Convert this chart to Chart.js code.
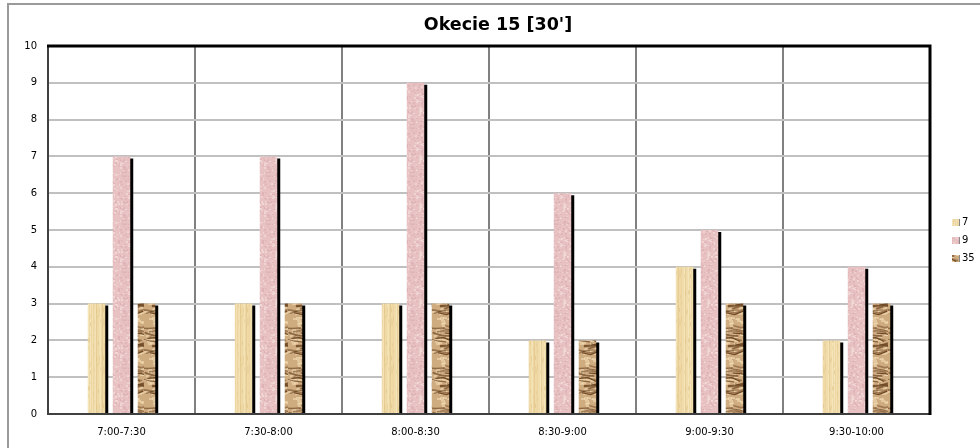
<!DOCTYPE html>
<html>
<head>
<meta charset="utf-8">
<script src="https://cdn.jsdelivr.net/npm/chart.js@4"></script>
<style>
  html, body { margin: 0; padding: 0; background: #fff; }
  #wrap { width: 980px; height: 448px; position: relative; }
</style>
</head>
<body>
<div id="wrap"><canvas id="chart" width="980" height="448"></canvas></div>
<script>
// data
const categories = ['7:00-7:30', '7:30-8:00', '8:00-8:30', '8:30-9:00', '9:00-9:30', '9:30-10:00'];
const seriesNames = ['7', '9', '35'];
const values7 = [3, 3, 3, 2, 4, 2];
const values9 = [7, 7, 9, 6, 5, 4];
const values35 = [3, 3, 3, 2, 3, 3];
const yMin = 0, yMax = 10, yStep = 1;

// small fixed noise source for the textures only
let seed = 12345;
function noise() {
    seed = (seed * 16807) % 2147483647;
    return seed / 2147483647;
}

function texture(w, h, base, paint) {
    let c = document.createElement('canvas');
    c.width = w; c.height = h;
    let g = c.getContext('2d');
    g.fillStyle = base;
    g.fillRect(0, 0, w, h);
    paint(g, w, h);
    return g.createPattern(c, 'repeat');
}

// papyrus-like tan
let tanFill = texture(24, 48, '#efd9a5', function(g, w, h) {
    for (let x = 0; x < w; x++) {
        g.fillStyle = noise() < 0.5 ? 'rgba(214,184,120,' + (noise() * 0.4) + ')' : 'rgba(250,238,205,' + (noise() * 0.6) + ')';
        g.fillRect(x, 0, 1, h);
    }
    for (let i = 0; i < 40; i++) {
        g.fillStyle = 'rgba(222,192,130,0.3)';
        g.fillRect(Math.floor(noise() * w), Math.floor(noise() * h), 1, 4);
    }
});

// rose marble pink
let pinkFill = texture(24, 48, '#e8c1c2', function(g, w, h) {
    for (let i = 0; i < 160; i++) {
        g.fillStyle = noise() < 0.5 ? 'rgba(244,218,218,0.7)' : 'rgba(215,166,170,0.45)';
        g.fillRect(Math.floor(noise() * w), Math.floor(noise() * h), 2, 1 + Math.floor(noise() * 2));
    }
});

// crumpled brown paper
let brownFill = texture(24, 40, '#cfab80', function(g, w, h) {
    for (let i = 0; i < 50; i++) {
        g.fillStyle = 'rgba(240,218,178,0.6)';
        g.fillRect(Math.floor(noise() * w), Math.floor(noise() * h), 4, 2);
    }
    g.lineCap = 'round';
    for (let i = 0; i < 16; i++) {
        let x = noise() * w, y = noise() * h;
        g.lineWidth = 1 + noise() * 1.5;
        g.strokeStyle = 'rgba(100,62,28,' + (0.45 + noise() * 0.45) + ')';
        g.beginPath();
        g.moveTo(x - 8, y + (noise() - 0.5) * 8);
        g.lineTo(x, y);
        g.lineTo(x + 8, y + (noise() - 0.5) * 8);
        g.stroke();
    }
});

const fills = [tanFill, pinkFill, brownFill];

// black drop shadow on the right of each bar
const barShadow = {
    id: 'barShadow',
    beforeDatasetsDraw(chart) {
        let ctx = chart.ctx;
        ctx.save();
        ctx.shadowColor = '#000';
        ctx.shadowBlur = 0;
        ctx.shadowOffsetX = 3;
        ctx.shadowOffsetY = 2;
    },
    afterDatasetsDraw(chart) {
        chart.ctx.restore();
    }
};

// plot frame, outer border and legend
const frame = {
    id: 'frame',
    beforeDraw(chart) {
        let ctx = chart.ctx;
        ctx.save();
        ctx.fillStyle = '#fff';
        ctx.fillRect(0, 0, chart.width, chart.height);
        ctx.strokeStyle = '#9a9a9a';
        ctx.lineWidth = 2;
        ctx.beginPath();
        ctx.moveTo(8, chart.height);
        ctx.lineTo(8, 4);
        ctx.lineTo(chart.width, 4);
        ctx.stroke();
        ctx.restore();
    },
    afterDraw(chart) {
        let ctx = chart.ctx;
        let a = chart.chartArea;
        ctx.save();
        ctx.lineWidth = 2;
        ctx.strokeStyle = '#404040';
        ctx.beginPath();
        ctx.moveTo(a.left, a.top);
        ctx.lineTo(a.left, a.bottom);
        ctx.lineTo(a.right, a.bottom);
        ctx.stroke();
        ctx.lineWidth = 3;
        ctx.strokeStyle = '#000';
        ctx.beginPath();
        ctx.moveTo(a.left - 1, a.top);
        ctx.lineTo(a.right, a.top);
        ctx.lineTo(a.right, a.bottom + 1);
        ctx.stroke();

        // legend
        ctx.font = '10px "DejaVu Sans"';
        ctx.textBaseline = 'middle';
        let ly = (a.top + a.bottom) / 2 - 8;
        for (let i = 0; i < seriesNames.length; i++) {
            let y = ly + i * 18;
            ctx.fillStyle = fills[i];
            ctx.fillRect(952, y - 3, 7, 7);
            ctx.fillStyle = '#888';
            ctx.fillRect(959, y - 3, 1, 7);
            ctx.fillStyle = '#000';
            ctx.fillText(seriesNames[i], 962, y);
        }
        ctx.restore();
    }
};

const allValues = [values7, values9, values35];
let datasets = seriesNames.map((name, i) => ({
    label: name,
    data: allValues[i],
    backgroundColor: fills[i],
    borderWidth: 0,
    categoryPercentage: 0.51,
    barPercentage: 0.7
}));

new Chart(document.getElementById('chart'), {
    type: 'bar',
    data: { labels: categories, datasets: datasets },
    plugins: [barShadow, frame],
    options: {
        responsive: false,
        animation: false,
        layout: { padding: { left: 16, right: 0, top: 0, bottom: 0 } },
        plugins: {
            legend: { display: false },
            tooltip: { enabled: false },
            title: {
                display: true,
                text: "Okecie 15 [30']",
                color: '#000',
                font: { family: '"DejaVu Sans"', size: 17.5, weight: 'bold', lineHeight: 1.2 },
                padding: { top: 15, bottom: 10 }
            }
        },
        scales: {
            x: {
                afterFit(scale) { scale.height = 34; },
                grid: { color: '#808080', lineWidth: 2, drawTicks: false },
                border: { display: false },
                ticks: { color: '#000', font: { family: '"DejaVu Sans"', size: 10 }, padding: 12, maxRotation: 0 }
            },
            y: {
                min: yMin,
                max: yMax,
                afterFit(scale) { scale.width = 32; },
                grid: { color: '#c0c0c0', lineWidth: 2, drawTicks: false },
                border: { display: false },
                ticks: { stepSize: yStep, color: '#000', font: { family: '"DejaVu Sans"', size: 10 }, padding: 11 }
            },
            // empty band on the right that holds the legend
            legendSpace: {
                type: 'linear',
                position: 'right',
                afterFit(scale) { scale.width = 50; },
                grid: { display: false },
                border: { display: false },
                ticks: { display: false }
            }
        }
    }
});
</script>
</body>
</html>
